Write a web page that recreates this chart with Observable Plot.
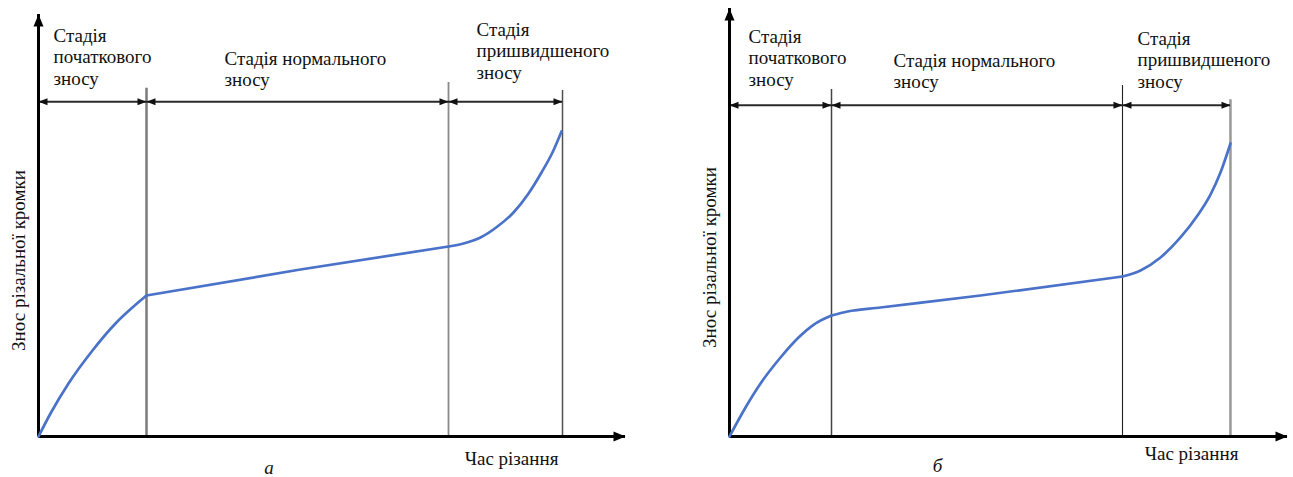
<!DOCTYPE html>
<html><head><meta charset="utf-8">
<script src="https://cdn.jsdelivr.net/npm/d3@7"></script>
<script src="https://cdn.jsdelivr.net/npm/@observablehq/plot@0.6"></script>
<style>
html,body{margin:0;padding:0;background:#fff;}
#wrap{position:relative;width:1293px;height:477px;overflow:hidden;background:#fff;}
#wrap > svg{position:absolute;top:0;font-family:"Times New Roman","Liberation Serif","DejaVu Serif",serif;}
#wrap svg text, #wrap svg g[aria-label="text"]{font-family:"Times New Roman","Liberation Serif","DejaVu Serif",serif !important;}
</style></head><body><div id="wrap"></div>
<script>
// ---- data (time and wear in relative units, 0–100 of each axis) ----
const stageLabels = ["Стадія\nпочаткового\nзносу", "Стадія нормального\nзносу", "Стадія\nпришвидшеного\nзносу"];
const xLabel = "Час різання";
const yLabel = "Знос різальної кромки";
const panelLetters = ["а", "б"];

const timeA = [0, 2.04, 5.11, 9.20, 13.12, 16.01, 18.40, 44.63, 69.85, 72.40, 75.30, 78.19, 80.92, 83.48, 85.69, 87.56, 89.10];
const wearA = [0, 5.45, 12.56, 20.38, 26.78, 30.57, 33.41, 39.57, 45.02, 45.73, 47.16, 49.76, 53.08, 57.58, 62.56, 67.30, 72.27];
const boundsA = [18.40, 69.85, 89.27];
const boundTopA = [82.5, 83.9, 82.0];
const dimLevelA = 79.3;

const timeB = [0, 2.87, 5.56, 9.14, 12.37, 15.05, 18.28, 21.15, 27.06, 44.98, 70.43, 73.66, 77.24, 80.82, 83.87, 86.20, 87.99, 89.78];
const wearB = [0, 6.78, 12.38, 18.46, 23.13, 26.10, 28.27, 29.21, 30.14, 32.94, 37.38, 38.79, 41.82, 46.50, 51.64, 56.54, 61.68, 68.46];
const boundsB = [18.28, 70.43, 89.78];
const boundTopB = [81.1, 82.0, 78.7];
const dimLevelB = 77.4;

// ---- helpers ----
const head = (dir, L, W) => ({
  draw(ctx) {
    const h = W / 2;
    ctx.moveTo(0, 0);
    if (dir === "right") { ctx.lineTo(-L, -h); ctx.lineTo(-L, h); }
    else if (dir === "left") { ctx.lineTo(L, -h); ctx.lineTo(L, h); }
    else { ctx.lineTo(-h, L); ctx.lineTo(h, L); }
    ctx.closePath();
  }
});

const FONT = "Times New Roman, Liberation Serif, serif";

function panel(cfg) {
  const {time, wear, bounds, tops, dimLevel, letter, layout} = cfg;
  const starts = [0, bounds[0], bounds[1]];
  const pts = [];
  for (let s = 0; s < 3; s++) {
    time.forEach((t, i) => {
      if (t >= starts[s] - 1e-6 && t <= bounds[s] + 1e-6) pts.push({t, w: wear[i], seg: s});
    });
  }
  const textBase = {fontFamily: FONT, fontSize: 19, fill: "#111"};
  const marks = [
    ...bounds.map((b, i) => Plot.ruleX([b], {y1: 0, y2: tops[i], stroke: layout.lines[i].stroke, strokeWidth: layout.lines[i].w})),
    Plot.ruleY([dimLevel], {x1: 0, x2: bounds[2], stroke: "#2a2a2a", strokeWidth: 2}),
    Plot.dot(starts, {x: d => d, y: () => dimLevel, symbol: head("left", 9, 7), fill: "#111", stroke: "none"}),
    Plot.dot(bounds, {x: d => d, y: () => dimLevel, symbol: head("right", 9, 7), fill: "#111", stroke: "none"}),
    Plot.ruleX([0], {y1: 0, y2: 100, stroke: "#000", strokeWidth: 3}),
    Plot.ruleY([0], {x1: 0, x2: 100, stroke: "#000", strokeWidth: 3}),
    Plot.dot([0], {x: 0, y: 100, symbol: head("up", 12, 10), fill: "#000", stroke: "none"}),
    Plot.dot([0], {x: 100, y: 0, symbol: head("right", 12, 10), fill: "#000", stroke: "none"}),
    Plot.line(pts, {x: "t", y: "w", z: "seg", curve: "monotone-x", stroke: "#4a72c8", strokeWidth: 2.7}),
    ...stageLabels.map((lab, i) => Plot.text([lab], {
      text: d => d, x: () => starts[i], frameAnchor: "top",
      textAnchor: "start", lineAnchor: "top", lineHeight: 1.13,
      dx: layout.labels[i][0], dy: layout.labels[i][1], ...textBase
    })),
    Plot.text([yLabel], {text: d => d, frameAnchor: "left", rotate: -90, textAnchor: "middle", lineAnchor: "middle",
      dx: layout.yLab[0], dy: layout.yLab[1], ...textBase}),
    Plot.text([xLabel], {text: d => d, frameAnchor: "bottom-right", textAnchor: "middle", lineAnchor: "middle",
      dx: layout.xLab[0], dy: layout.xLab[1], ...textBase}),
    Plot.text([letter], {text: d => d, frameAnchor: "bottom", textAnchor: "middle", lineAnchor: "middle",
      dx: layout.letter[0], dy: layout.letter[1], fontStyle: "italic", ...textBase})
  ];
  return Plot.plot({
    width: layout.width, height: 477,
    marginLeft: layout.ml, marginRight: layout.mr, marginTop: layout.mt, marginBottom: 41,
    x: {domain: [0, 100], axis: null},
    y: {domain: [0, 100], axis: null},
    style: {background: "transparent", overflow: "visible"},
    marks
  });
}

const svgA = panel({
  time: timeA, wear: wearA, bounds: boundsA, tops: boundTopA, dimLevel: dimLevelA, letter: panelLetters[0],
  layout: {
    width: 650, ml: 38, mr: 25, mt: 14,
    lines: [{stroke: "#7a7a7a", w: 2.5}, {stroke: "#8a8a8a", w: 1.8}, {stroke: "#505050", w: 1.5}],
    labels: [[15, 12], [78, 35], [28, 6]],
    yLab: [-20, 35], xLab: [-114, 22], letter: [-63, 31]
  }
});
svgA.style.left = "0px";

const svgB = panel({
  time: timeB, wear: wearB, bounds: boundsB, tops: boundTopB, dimLevel: dimLevelB, letter: panelLetters[1],
  layout: {
    width: 613, ml: 49, mr: 6, mt: 8,
    lines: [{stroke: "#444", w: 1.5}, {stroke: "#222", w: 1.1}, {stroke: "#999", w: 2.5}],
    labels: [[19, 19], [62, 43], [15, 21]],
    yLab: [-20, 35], xLab: [-96, 17], letter: [-71, 29]
  }
});
svgB.style.left = "680px";

document.getElementById("wrap").append(svgA, svgB);
</script></body></html>
